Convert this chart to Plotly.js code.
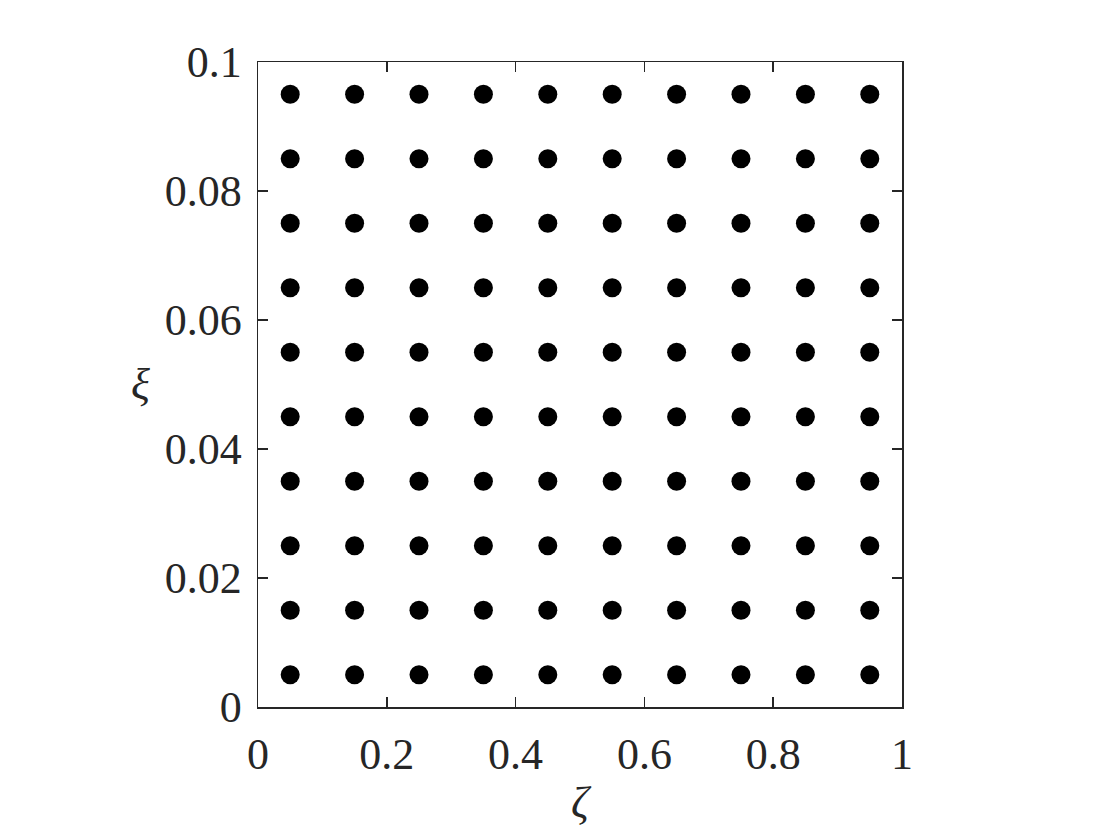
<!DOCTYPE html>
<html>
<head>
<meta charset="utf-8">
<script src="https://cdn.plot.ly/plotly-3.0.1.min.js"></script>
<style>
  body { margin: 0; background: #fff; }
  #grid { width: 1120px; height: 840px; }
</style>
</head>
<body>
<div id="grid"></div>
<script>
// sample grid: zeta along x, xi along y
var zetaValues = [0.05, 0.15, 0.25, 0.35, 0.45, 0.55, 0.65, 0.75, 0.85, 0.95];
var xiValues = [0.005, 0.015, 0.025, 0.035, 0.045, 0.055, 0.065, 0.075, 0.085, 0.095];

var xTickVals = [0, 0.2, 0.4, 0.6, 0.8, 1];
var xTickText = ['0', '0.2', '0.4', '0.6', '0.8', '1'];
var yTickVals = [0, 0.02, 0.04, 0.06, 0.08, 0.1];
var yTickText = ['0', '0.02', '0.04', '0.06', '0.08', '0.1'];

//every zeta/xi combination is one point
var px = [], py = [];
for (var i = 0; i < xiValues.length; i++) {
  for (var j = 0; j < zetaValues.length; j++) {
    px.push(zetaValues[j]);
    py.push(xiValues[i]);
  }
}

var axisFont = {family: 'Liberation Serif, Times New Roman, serif', size: 44, color: '#262626'};

var trace = {
  x: px,
  y: py,
  type: 'scatter',
  mode: 'markers',
  marker: {color: '#000000', size: 19},
  hoverinfo: 'none'
};

var layout = {
  width: 1120,
  height: 840,
  margin: {l: 258, r: 218, t: 62, b: 133},
  paper_bgcolor: '#ffffff',
  plot_bgcolor: '#ffffff',
  showlegend: false,
  font: axisFont,
  xaxis: {
    range: [0, 1],
    tickvals: xTickVals,
    ticktext: xTickText,
    ticks: 'inside',
    ticklen: 10,
    tickwidth: 1.5,
    tickcolor: '#262626',
    mirror: 'ticks',
    showline: true,
    linecolor: '#262626',
    linewidth: 1.5,
    showgrid: false,
    zeroline: false,
    ticklabelstandoff: 8,
    tickfont: axisFont,
    title: {text: '<i>ζ</i>', font: axisFont, standoff: 8}
  },
  yaxis: {
    range: [0, 0.1],
    tickvals: yTickVals,
    ticktext: yTickText,
    ticks: 'inside',
    ticklen: 10,
    tickwidth: 1.5,
    tickcolor: '#262626',
    mirror: 'ticks',
    showline: true,
    linecolor: '#262626',
    linewidth: 1.5,
    showgrid: false,
    zeroline: false,
    ticklabelstandoff: 6,
    tickfont: axisFont
  },
  //y label stays upright, so it is an annotation instead of an axis title
  annotations: [{
    text: '<i>ξ</i>',
    xref: 'paper',
    yref: 'paper',
    x: -0.183,
    y: 0.5,
    xanchor: 'center',
    yanchor: 'middle',
    showarrow: false,
    font: axisFont
  }]
};

Plotly.newPlot('grid', [trace], layout, {staticPlot: true});
</script>
</body>
</html>
